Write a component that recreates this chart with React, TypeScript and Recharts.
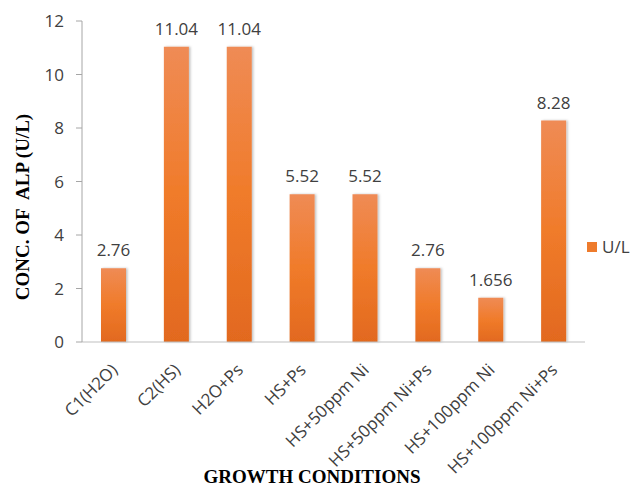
import React from 'react';
import { BarChart, Bar, XAxis, YAxis, Legend, LabelList, Label } from 'recharts';

const conditions = [
  'C1(H2O)',
  'C2(HS)',
  'H2O+Ps',
  'HS+Ps',
  'HS+50ppm Ni',
  'HS+50ppm Ni+Ps',
  'HS+100ppm Ni',
  'HS+100ppm Ni+Ps'
];
const alpValues = [2.76, 11.04, 11.04, 5.52, 5.52, 2.76, 1.656, 8.28];
const yTicks = [0, 2, 4, 6, 8, 10, 12];

const data = conditions.map((name, i) => ({ name, value: alpValues[i] }));

const textColor = '#404040';
const font = '"Open Sans", sans-serif';
const titleFont = '"Liberation Serif", "Times New Roman", serif';

const RotatedTick = (props: any) => {
  const { x, y, payload } = props;
  const tx = x + 5;
  const ty = y + 21;
  return (
    <text
      x={tx}
      y={ty}
      transform={`rotate(-45, ${tx}, ${ty})`}
      textAnchor="end"
      fill={textColor}
      fontSize={17}
      fontFamily={font}
    >
      {payload.value}
    </text>
  );
};

const LegendContent = () => (
  <div style={{ display: 'flex', alignItems: 'center', fontFamily: font, fontSize: 17, color: textColor }}>
    <span style={{ display: 'inline-block', width: 10, height: 10, background: '#EE7B2C', marginRight: 5 }} />
    U/L
  </div>
);

const App: React.FC = () => {
  return (
    <div style={{ position: 'absolute', left: 0, top: 0, background: '#fff' }}>
      <BarChart
        width={632}
        height={487}
        data={data}
        margin={{ top: 21, right: 47, bottom: 35, left: 40 }}
      >
        <defs>
          <linearGradient id="barFill" x1="0" y1="0" x2="0" y2="1">
            <stop offset="0%" stopColor="#EF8B55" />
            <stop offset="50%" stopColor="#F07B2A" />
            <stop offset="100%" stopColor="#E2691F" />
          </linearGradient>
          <filter id="barShadow" x="-20%" y="-5%" width="150%" height="110%">
            <feDropShadow dx="1.5" dy="0" stdDeviation="1.2" floodColor="#000" floodOpacity="0.25" />
          </filter>
        </defs>
        <XAxis
          dataKey="name"
          height={110}
          interval={0}
          tickLine={false}
          stroke="#BFBFBF"
          tick={<RotatedTick />}
        >
          <Label
            content={() => (
              <text x={312} y={483} textAnchor="middle" fontFamily={titleFont} fontWeight="bold" fontSize={19} fill="#000">
                GROWTH CONDITIONS
              </text>
            )}
          />
        </XAxis>
        <YAxis
          width={42}
          domain={[0, 12]}
          ticks={yTicks}
          interval={0}
          stroke="#A6A6A6"
          tickSize={6}
          tickMargin={12}
          tick={{ fill: textColor, fontSize: 17, fontFamily: font }}
        >
          <Label
            content={() => (
              <text
                x={29}
                y={207}
                transform="rotate(-90, 29, 207)"
                textAnchor="middle"
                fontFamily={titleFont}
                fontWeight="bold"
                fontSize={19}
                fill="#000"
              >
                {'CONC. OF\u00A0 ALP (U/L)'}
              </text>
            )}
          />
        </YAxis>
        <Legend
          layout="horizontal"
          verticalAlign="middle"
          align="center"
          content={<LegendContent />}
          wrapperStyle={{ position: 'absolute', left: 587, top: 235, width: 45 }}
        />
        <Bar
          dataKey="value"
          name="U/L"
          barSize={25}
          fill="url(#barFill)"
          filter="url(#barShadow)"
          isAnimationActive={false}
        >
          <LabelList
            dataKey="value"
            position="top"
            offset={12}
            fill={textColor}
            fontSize={17}
            fontFamily={font}
          />
        </Bar>
      </BarChart>
    </div>
  );
};

export default App;
